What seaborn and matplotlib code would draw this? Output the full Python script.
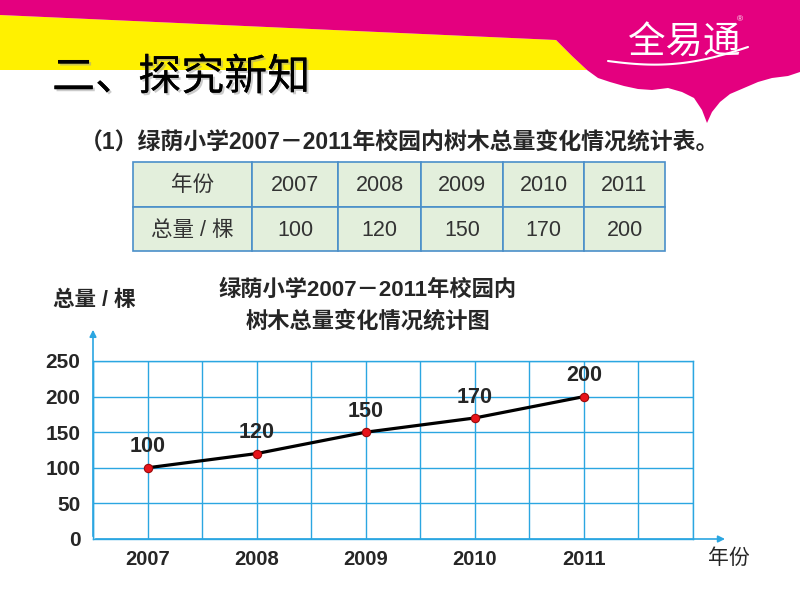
import numpy as np
import pandas as pd
import matplotlib
matplotlib.use("Agg")
import matplotlib.pyplot as plt
import matplotlib.patheffects as pe
from matplotlib.patches import Polygon, Rectangle
import seaborn as sns

#Data from the slide
years = [2007, 2008, 2009, 2010, 2011]
totals = [100, 120, 150, 170, 200]
y_ticks = [0, 50, 100, 150, 200, 250]
row_heads = ["年份", "总量 / 棵"]

sns.set_theme(style="white")
plt.rcParams['font.family'] = ['Liberation Sans', 'Noto Sans CJK SC', 'DejaVu Sans']

MAGENTA = "#E4007F"
YELLOW = "#FFF100"
GRID = "#2BA6E1"

fig = plt.figure(figsize=(8, 6), dpi=100)

#Background axes in pixel units (y down)
bg = fig.add_axes([0, 0, 1, 1])
bg.set_xlim(0, 800)
bg.set_ylim(600, 0)
bg.axis("off")

#Banner: yellow strip under magenta band and cloud
bg.add_patch(Polygon([(0, 15), (556, 40), (572, 56), (587, 70), (0, 70)],
                     closed=True, color=YELLOW, lw=0))
cloud = [(0, 0), (800, 0), (800, 72), (788, 76), (772, 78), (758, 82),
         (744, 88), (730, 94), (720, 102), (712, 112), (707, 123),
         (702, 110), (694, 98), (682, 92), (668, 88), (652, 90), (638, 89),
         (624, 86), (610, 82), (598, 78), (587, 70), (572, 56), (556, 40),
         (0, 15)]
bg.add_patch(Polygon(cloud, closed=True, color=MAGENTA, lw=0))

#Logo text
bg.text(684, 42, "全易通", color="white", fontsize=27, ha="center", va="center",
        fontstyle="italic", family=['Noto Sans CJK SC', 'DejaVu Sans'])
t = np.linspace(0, 1, 40)
bg.plot(608 + 140 * t, 61 - 14 * t ** 2 + 6 * np.sin(np.pi * t), color="white", lw=1.5)
bg.text(740, 20, "®", color="white", fontsize=6, ha="center", va="center")

#Slide title with shadow
bg.text(52, 78, "二、探究新知", fontsize=31, color="black", ha="left", va="center",
        family=['Noto Sans CJK SC', 'DejaVu Sans'],
        path_effects=[pe.withSimplePatchShadow(offset=(1.5, -1.5), shadow_rgbFace="#999999", alpha=0.5),
                      pe.Normal()])

#Subtitle
bg.text(80, 143, "（1）绿荫小学2007－2011年校园内树木总量变化情况统计表。",
        fontsize=16.5, fontweight="bold", ha="left", va="center")

#Table
col_edges = [133, 252, 338, 421, 503, 584, 665]
row_edges = [162, 207, 251]
for r in range(2):
    for c in range(6):
        x0, x1 = col_edges[c], col_edges[c + 1]
        y0, y1 = row_edges[r], row_edges[r + 1]
        bg.add_patch(Rectangle((x0, y0), x1 - x0, y1 - y0, facecolor="#E3EFDC",
                               edgecolor="#4A8FC9", lw=1.2))
        if c == 0:
            label = row_heads[r]
        else:
            label = str(years[c - 1]) if r == 0 else str(totals[c - 1])
        bg.text((x0 + x1) / 2, (y0 + y1) / 2 + 1, label, fontsize=15.5, color="#333333",
                ha="center", va="center")

#Chart title and axis labels
bg.text(368, 290, "绿荫小学2007－2011年校园内", fontsize=16, fontweight="bold",
        ha="center", va="center")
bg.text(368, 322, "树木总量变化情况统计图", fontsize=16, fontweight="bold",
        ha="center", va="center")
bg.text(94, 301, "总量 / 棵", fontsize=15.5, fontweight="bold", ha="center", va="center")
bg.text(729, 558, "年份", fontsize=15, ha="center", va="center")

#Line chart
ax = fig.add_axes([93 / 800, 61 / 600, 600 / 800, 178 / 600])
ax.set_facecolor("none")
df = pd.DataFrame({"year": years, "total": totals})
sns.lineplot(data=df, x="year", y="total", ax=ax, color="black", lw=2.3,
             marker="o", markersize=6, markerfacecolor="#E8141B",
             markeredgecolor="#9A0A0A", markeredgewidth=0.8, zorder=5)

for yr, val in zip(years, totals):
    ax.annotate(str(val), (yr, val), xytext=(0, 15), textcoords="offset points",
                ha="center", va="center", fontsize=15.5, fontweight="bold", zorder=6)

ax.set_xlim(2006.5, 2012)
ax.set_ylim(0, 250)
ax.set_xticks(years)
ax.set_xticklabels([str(y) for y in years], fontsize=14.5, fontweight="bold")
ax.set_xticks(np.arange(2006.5, 2012.01, 0.5), minor=True)
ax.set_yticks(y_ticks)
ax.set_yticklabels([str(v) for v in y_ticks], fontsize=15, fontweight="bold")
ax.grid(which="both", color=GRID, lw=1.0)
ax.tick_params(which="both", length=0)
ax.tick_params(axis="x", pad=8)
ax.tick_params(axis="y", pad=9)
ax.set_xlabel("")
ax.set_ylabel("")
for s in ax.spines.values():
    s.set_color(GRID)
    s.set_linewidth(1.0)

#Axis arrows
ax.annotate("", xy=(1.058, 0), xytext=(0, 0), xycoords="axes fraction",
            arrowprops=dict(arrowstyle="-|>", color=GRID, lw=1.2, mutation_scale=10),
            annotation_clip=False)
ax.annotate("", xy=(0, 1.191), xytext=(0, 0), xycoords="axes fraction",
            arrowprops=dict(arrowstyle="-|>", color=GRID, lw=1.2, mutation_scale=10),
            annotation_clip=False)

fig.savefig("out.png", dpi=100)
